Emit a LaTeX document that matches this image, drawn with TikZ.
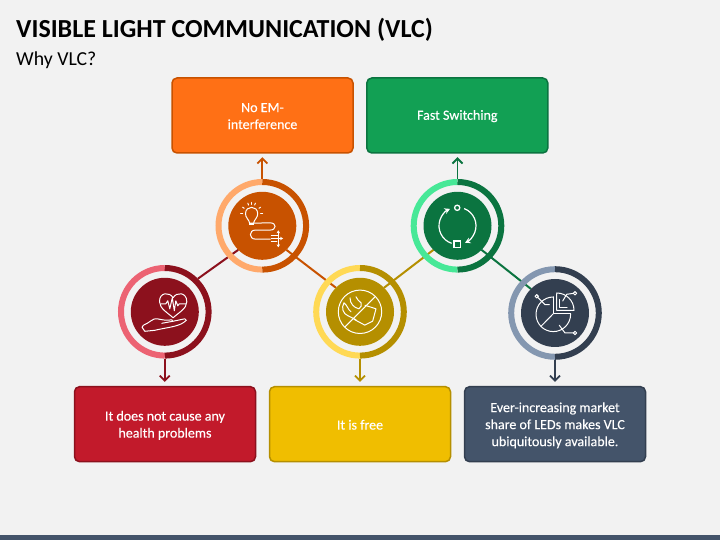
\documentclass[tikz,border=0pt]{standalone}
\usepackage{fontspec}
\setmainfont{Carlito}
\usetikzlibrary{arrows.meta,backgrounds}
\definecolor{pagebg}{HTML}{F2F2F2}
\definecolor{barcol}{HTML}{44546A}
\definecolor{redD}{HTML}{8C111D}\definecolor{redL}{HTML}{EC6373}\definecolor{redF}{HTML}{C21A2B}
\definecolor{oraD}{HTML}{C85200}\definecolor{oraL}{HTML}{FFA96B}\definecolor{oraF}{HTML}{FF7015}
\definecolor{yelD}{HTML}{B58F00}\definecolor{yelL}{HTML}{FFD955}\definecolor{yelF}{HTML}{F0BE00}
\definecolor{greD}{HTML}{0B7440}\definecolor{greL}{HTML}{47E897}\definecolor{greF}{HTML}{12A054}
\definecolor{navD}{HTML}{333F50}\definecolor{navL}{HTML}{8497B0}\definecolor{navF}{HTML}{44546A}
\tikzset{
  card/.style={draw=#1,line width=1.5pt,rounded corners=5pt,minimum width=181pt,minimum height=75pt,inner sep=0pt},
  cardtext/.style={text=white,align=center,font=\fontsize{14}{17}\selectfont\addfontfeature{FakeBold=0.25},inner sep=0pt},
  disk/.style={circle,fill=#1,minimum size=68pt,inner sep=0pt,outer sep=0pt},
  ringbox/.style={circle,minimum size=93.6pt,inner sep=0pt,outer sep=0pt},
  link/.style={draw=#1,line width=2pt},
  pointer/.style={draw=#1,line width=1.8pt,-{Straight Barb[length=5pt,width=10pt]}},
  ico/.style={draw=white,line width=1pt,line cap=round,line join=round},
}
\newcommand{\halfrings}[3]{%
  \draw[#2,line width=6pt] (#1) ++(0,43.8) arc[start angle=90,end angle=270,radius=43.8pt];
  \draw[#3,line width=6pt] (#1) ++(0,43.8) arc[start angle=90,end angle=-90,radius=43.8pt];}
\begin{document}
\begin{tikzpicture}[x=1pt,y=1pt]
\useasboundingbox (0,0) rectangle (720,540);
% boxes
\node[card=oraD,fill=oraF] (oraBox) at (262.5,424.5) {};
\node[card=greD,fill=greF] (greBox) at (457.3,424.5) {};
\node[card=redD,fill=redF] (redBox) at (165,115.8) {};
\node[card=yelD,fill=yelF] (yelBox) at (360,115.8) {};
\node[card=navD,fill=navF] (navBox) at (555,115.8) {};
\node[cardtext] (oraText) at ([yshift=-.6pt]oraBox.center) {No EM-\\interference};
\node[cardtext] (greText) at ([yshift=-.6pt]greBox.center) {Fast Switching};
\node[cardtext] (redText) at ([yshift=-1.2pt]redBox.center) {It does not cause any\\health problems};
\node[cardtext] (yelText) at ([yshift=-.6pt]yelBox.center) {It is free};
\node[cardtext] (navText) at ([yshift=-1.2pt]navBox.center) {Ever-increasing market\\share of LEDs makes VLC\\ubiquitously available.};
% rings
\node[ringbox] (redRing) at (164.8,228.2) {};
\node[ringbox] (oraRing) at (262.3,314.2) {};
\node[ringbox] (yelRing) at (360,228.2) {};
\node[ringbox] (greRing) at (457.5,314.2) {};
\node[ringbox] (navRing) at (555,227) {};
\halfrings{redRing.center}{redL}{redD}
\halfrings{oraRing.center}{oraL}{oraD}
\halfrings{yelRing.center}{yelL}{yelD}
\halfrings{greRing.center}{greL}{greD}
\halfrings{navRing.center}{navL}{navD}
% disks
\node[disk=redD] (redDisk) at (redRing.center) {};
\node[disk=oraD] (oraDisk) at (oraRing.center) {};
\node[disk=yelD] (yelDisk) at (yelRing.center) {};
\node[disk=greD] (greDisk) at (greRing.center) {};
\node[disk=navD] (navDisk) at (navRing.center) {};
% background and links
\begin{scope}[on background layer]
\fill[pagebg] (0,0) rectangle (720,540);
\fill[barcol] (0,0) rectangle (720,5);
\draw[link=redD] (redRing.45) -- (oraDisk.225);
\draw[link=oraD] (oraDisk.315) -- (yelDisk.135);
\draw[link=yelD] (yelDisk.45) -- (greDisk.225);
\draw[link=greD] (greDisk.315) -- (navDisk.135);
\end{scope}
% pointers
\draw[pointer=oraD,shorten >=3.5pt] (oraRing.north) -- (oraRing.north |- oraBox.south);
\draw[pointer=greD,shorten >=3.5pt] (greRing.north) -- (greRing.north |- greBox.south);
\draw[pointer=redD,shorten >=4pt] (redRing.south) -- (redRing.south |- redBox.north);
\draw[pointer=yelD,shorten >=4pt] (yelRing.south) -- (yelRing.south |- yelBox.north);
\draw[pointer=navD,shorten >=4pt] (navRing.south) -- (navRing.south |- navBox.north);
% titles
\node[anchor=base west,inner sep=0pt,font=\fontsize{26}{30}\selectfont\bfseries] (mainTitle) at (16,502.8) {VISIBLE LIGHT COMMUNICATION (VLC)};
\node[anchor=base west,inner sep=0pt,font=\fontsize{19.8}{23}\selectfont] (subTitle) at (16,474.2) {Why VLC?};
% heart icon
\begin{scope}[shift={(redDisk.center)},y=-1pt]
\draw[ico] (8.3,-14) .. controls (5,-20) and (-5.5,-20) .. (-5.3,-10) .. controls (-5,-3) and (3,1) .. (8.3,6) .. controls (13.5,1) and (22,-3) .. (22,-10) .. controls (22,-20) and (11.5,-20) .. (8.3,-14);
\draw[ico] (-4,-8) -- (1,-8) -- (3,-11) -- (5,-3) -- (7.5,-14) -- (9.5,-1) -- (11,-11) -- (13,-6) -- (14.5,-8) -- (21,-8);
\draw[ico] (-22.7,15.5) -- (-21.5,13.5) .. controls (-15,11) and (-12,6) .. (-7.5,7) .. controls (-3,8) and (2,9) .. (7,8) -- (8,9.5) -- (20,7) -- (21.5,8.5) .. controls (15,15) and (5,15) .. (-10,18.5) -- (-20,19.5) -- cycle;
\draw[ico] (-3,11.5) -- (8,9.5);
\end{scope}
% bulb icon
\begin{scope}[shift={(oraDisk.center)},y=-1pt]
\draw[ico] (-12.7,-2.7) .. controls (-13,-6) and (-17,-8) .. (-16.8,-12.3) .. controls (-16.6,-20.5) and (-4.8,-20.5) .. (-4.6,-12.3) .. controls (-4.4,-8) and (-8.4,-6) .. (-8.7,-2.7) -- cycle;
\fill[white] (-13,-2.7) rectangle (-8.5,-.4);
\foreach \a in {180,215,250,270,290,325,360}
  \draw[ico] ({-10.7+9*cos(\a)},{-12.3+9*sin(\a)}) -- ({-10.7+11*cos(\a)},{-12.3+11*sin(\a)});
\draw[ico] (-8.5,-2.6) -- (7.6,-3) .. controls (14.5,-3) and (14.5,4.3) .. (7.6,4.3) -- (-7,4.3) .. controls (-13.5,4.3) and (-13.5,13.3) .. (-7,13.3) -- (8,13.3);
\draw[ico,-{Stealth[length=3pt,width=3.5pt]}] (9,12.7) -- (20.8,12.7);
\draw[ico,-{Stealth[length=3pt,width=3.5pt]}] (16,12) -- (16,4.5);
\draw[ico,-{Stealth[length=3pt,width=3.5pt]}] (16,13.5) -- (16,21.5);
\draw[ico] (9,9.7) -- (16,9.7);
\draw[ico] (9,16) -- (14.5,16);
\end{scope}
% no-money icon
\begin{scope}[shift={(yelDisk.center)},y=-1pt]
\draw[ico] (0,0) circle[radius=21.7pt];
\draw[ico] (-15,15) -- (15,-15);
\draw[ico] (-6,7.5) -- (4.7,13.3) -- (12.7,9.3) -- (16,-3) -- (5,-6.5);
\draw[ico] (-12,4) .. controls (-17,2) and (-19,-4) .. (-16,-9) .. controls (-13,-7) and (-12,-2) .. (-9,0);
\draw[ico] (-10,-14) .. controls (-10,-8) and (-6,-4) .. (-1,-3) .. controls (1,-5) and (2,-6) .. (1,-9);
\draw[ico] (-4,-15) .. controls (-3,-12) and (-1,-11) .. (1,-9);
\draw[ico] (-12,4) -- (-4,8);
\end{scope}
% cycle icon
\begin{scope}[shift={(greDisk.center)}]
\draw[white,line width=1.2pt,-{Stealth[length=5.5pt,width=6pt]}] (0,0) ++(251.6:18.5pt) arc[start angle=251.6,end angle=114,radius=18.5pt];
\draw[white,line width=1.2pt,-{Stealth[length=5.5pt,width=6pt]}] (0,0) ++(69:18.5pt) arc[start angle=69,end angle=-66,radius=18.5pt];
\draw[white,line width=1.3pt] (-.3,18) circle[radius=2.6pt];
\draw[white,line width=1.6pt] (-3.3,-21.6) rectangle (2.9,-15.4);
\end{scope}
% pie icon
\begin{scope}[shift={(navDisk.center)}]
\draw[ico] (1.7,19.3) -- (1.7,2.7) -- (19,2.7) arc[start angle=0,end angle=90,radius=17.3pt];
\draw[ico] (4.2,13.5) -- (4.2,5.2) -- (12,5.2);
\draw[ico] (-1.7,16) arc[start angle=90,end angle=360,radius=17.3pt];
\draw[ico] (-1.7,16) -- (-1.7,-.7) -- (15.6,-.7);
\draw[ico] (-1.7,-.7) -- (-14,-13.3);
\draw[ico] (-18.3,16.7) circle[radius=1.7pt];
\draw[ico] (-17.2,15.5) -- (-10,8.3) -- (-5.7,8.3);
\draw[ico] (20,19.7) circle[radius=1.7pt];
\draw[ico] (18.3,19.6) -- (11.7,18.7) -- (7.7,12);
\draw[ico] (20,-20) circle[radius=1.7pt];
\draw[ico] (18.3,-20) -- (10,-20) -- (4.3,-12.3);
\end{scope}
\end{tikzpicture}
\end{document}
